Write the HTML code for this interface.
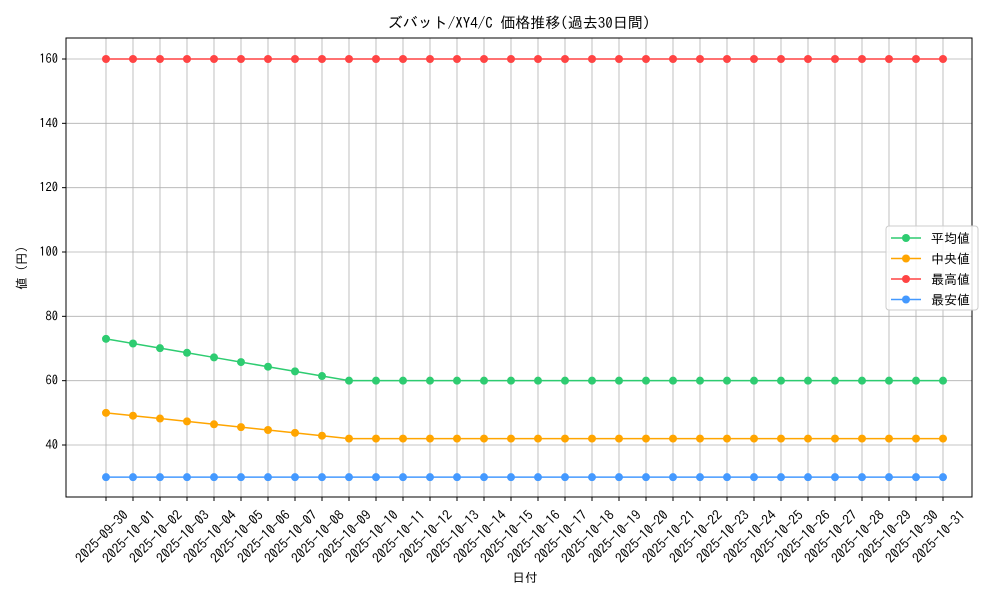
<!DOCTYPE html>
<html><head><meta charset="utf-8"><style>
body{margin:0;background:#fff}
svg text{font-family:"IPAGothic","Liberation Sans","Noto Sans CJK JP",sans-serif;fill:#000}
</style></head><body>
<svg id="s" width="1000" height="600" xmlns="http://www.w3.org/2000/svg"></svg>
<script>
const s=document.getElementById('s');let h='';
const L=66,R=972,T=38,B=497;
const X=i=>106+i*27.0, Y=v=>445-(v-40)*3.2167;
for(let i=0;i<32;i++)h+=`<line x1="${X(i)}" y1="${T}" x2="${X(i)}" y2="${B}" stroke="#b0b0b0" stroke-width="0.8"/>`;
for(let v=40;v<=160;v+=20)h+=`<line x1="${L}" y1="${Y(v)}" x2="${R}" y2="${Y(v)}" stroke="#b0b0b0" stroke-width="0.8"/><line x1="${L-4}" y1="${Y(v)}" x2="${L}" y2="${Y(v)}" stroke="#000"/><text x="${L-8}" y="${Y(v)+4}" font-size="12.5" text-anchor="end">${v}</text>`;
h+=`<rect x="${L}" y="${T}" width="${R-L}" height="${B-T}" fill="none" stroke="#000" stroke-width="1"/>`;
for(let i=0;i<32;i++){let d=i==0?'2025-09-30':'2025-10-'+String(i).padStart(2,'0');
h+=`<line x1="${X(i)}" y1="${B}" x2="${X(i)}" y2="${B+4}" stroke="#000"/><text font-size="13.5" text-anchor="end" transform="translate(${X(i)+23},${B+19}) rotate(-45)">${d}</text>`;}
const ser=[["#2ecc71",i=>i<9?73-i*13/9:60],["#ffa500",i=>i<9?50-i*8/9:42],["#ff4444",i=>160],["#4499ff",i=>30]];
for(const[c,f] of ser){let p=[];for(let i=0;i<32;i++)p.push(X(i)+','+Y(f(i)));
h+=`<polyline points="${p.join(' ')}" fill="none" stroke="${c}" stroke-width="1.5"/>`;
for(let i=0;i<32;i++)h+=`<circle cx="${X(i)}" cy="${Y(f(i))}" r="4" fill="${c}"/>`;}
h+=`<text x="519" y="28" font-size="15" text-anchor="middle">ズバット/XY4/C 価格推移(過去30日間)</text>`;
h+=`<text x="525" y="582" font-size="12.5" text-anchor="middle">日付</text>`;
h+=`<text font-size="12.5" text-anchor="middle" transform="translate(26,268) rotate(-90)">値 (円)</text>`;
h+=`<rect x="886" y="226" width="92" height="84" rx="3" fill="#fff" fill-opacity="0.85" stroke="#ccc"/>`;
const nm=["平均値","中央値","最高値","最安値"];
ser.forEach((a,k)=>{let y=238+k*20.5;h+=`<line x1="891" y1="${y}" x2="921" y2="${y}" stroke="${a[0]}" stroke-width="1.5"/><circle cx="906" cy="${y}" r="4" fill="${a[0]}"/><text x="931" y="${y+5}" font-size="13">${nm[k]}</text>`;});
s.innerHTML=h;
</script>
</body></html>
